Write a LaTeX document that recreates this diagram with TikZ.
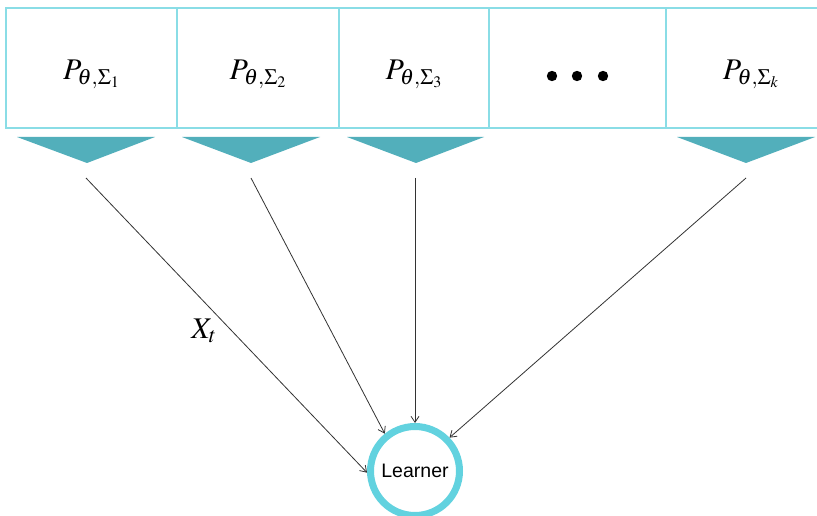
\documentclass[tikz,border=0pt]{standalone}
\usepackage{mathptmx}
\usepackage{fontspec}
\newfontfamily\lsans{Liberation Sans}
\DeclareMathSizes{30}{30}{22}{16}
\usetikzlibrary{arrows.meta}
\definecolor{boxline}{HTML}{8ADDE6}
\definecolor{tri}{HTML}{52AFBB}
\definecolor{ring}{HTML}{62D2DF}
\definecolor{arr}{HTML}{333333}
\begin{document}
\begin{tikzpicture}[x=1pt,y=-1pt,
  cell/.style={draw=boxline,line width=1.2pt,minimum height=120pt,inner sep=0pt,outer sep=0pt,anchor=north west},
  lab/.style={inner sep=0pt,yshift=-6pt,font=\fontsize{30}{36}\selectfont},
  feed/.style={draw=arr,line width=0.8pt,-{Straight Barb[length=6pt,width=8pt]}},
  tricol/.style={fill=tri}]
\clip (0,0) rectangle (817,516);
\fill[white] (0,0) rectangle (817,516);
% boxes
\node[cell,minimum width=171pt] (b1) at (6,8) {};
\node[cell,minimum width=162pt] (b2) at (177,8) {};
\node[cell,minimum width=150pt] (b3) at (339,8) {};
\node[cell,minimum width=177pt] (b4) at (489,8) {};
\node[cell,minimum width=170pt] (b5) at (666,8) {};
\node[lab] (t1) at (b1.center) {$P_{\theta,\Sigma_1}$};
\node[lab] (t2) at (b2.center) {$P_{\theta,\Sigma_2}$};
\node[lab] (t3) at (b3.center) {$P_{\theta,\Sigma_3}$};
\node[lab] (t5) at (b5.center) {$P_{\theta,\Sigma_k}$};
% dots
\fill (552,76) circle (5.2pt);
\fill (577,76) circle (5.2pt);
\fill (603,76) circle (5.2pt);
% triangles
\fill[tricol] (17,137) -- (155,137) -- (87,163) -- cycle;
\fill[tricol] (182,137) -- (320,137) -- (251,163) -- cycle;
\fill[tricol] (347,137) -- (484,137) -- (416,163) -- cycle;
\fill[tricol] (677,137) -- (815,137) -- (746,163) -- cycle;
% learner
\node[circle,draw=ring,line width=7pt,minimum size=89pt,inner sep=0pt,
  font=\lsans\fontsize{19.5}{22}\selectfont] (L) at (415,471) {Learner};
% sources
\coordinate (s1) at (86,178);
\coordinate (s2) at (251,178);
\coordinate (s3) at (415,178);
\coordinate (s4) at (746,178);
\draw[feed] (s1) -- (L.182);
\draw[feed] (s2) -- (L.129);
\draw[feed] (s3) -- (L.north);
\draw[feed] (s4) -- (L.44);
% label
\node[font=\fontsize{30}{36}\selectfont,inner sep=0pt] (xt) at (204,331) {$X_t$};
\end{tikzpicture}
\end{document}
